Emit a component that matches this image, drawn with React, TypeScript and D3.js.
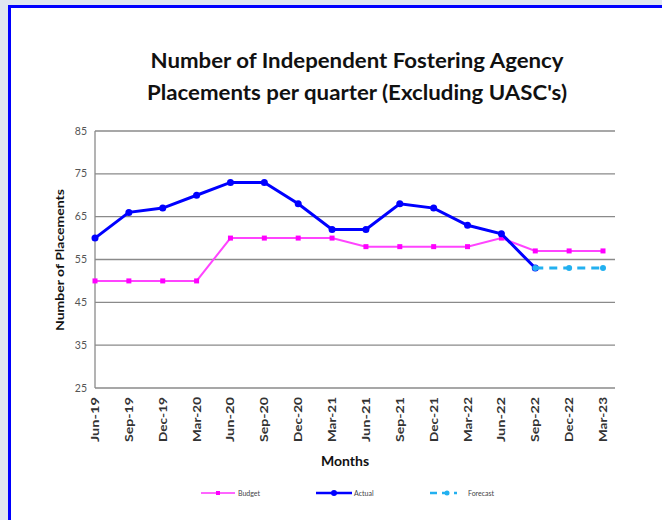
import React from "react";
import * as d3 from "d3";

const months = ["Jun-19","Sep-19","Dec-19","Mar-20","Jun-20","Sep-20","Dec-20","Mar-21","Jun-21","Sep-21","Dec-21","Mar-22","Jun-22","Sep-22","Dec-22","Mar-23"];
const budget = [50,50,50,50,60,60,60,60,58,58,58,58,60,57,57,57];
const actual = [60,66,67,70,73,73,68,62,62,68,67,63,61,53];
const forecastMonths = ["Sep-22","Dec-22","Mar-23"];
const forecast = [53,53,53];
const yTicks = [25,35,45,55,65,75,85];

const W = 662, H = 520;
const left = 95, top = 131, bottom = 388, right = 615;
const firstX = 95, lastX = 603;

export default function App() {
  const x = d3.scalePoint<string>().domain(months).range([firstX, lastX]);
  const y = d3.scaleLinear().domain([25, 85]).range([bottom, top]);
  const line = d3.line<[string, number]>().x(d => x(d[0])!).y(d => y(d[1]));
  const bData: [string, number][] = months.map((m, i) => [m, budget[i]]);
  const aData: [string, number][] = actual.map((v, i) => [months[i], v]);
  const fData: [string, number][] = forecast.map((v, i) => [forecastMonths[i], v]);
  const font = "Lato, Open Sans, Liberation Sans, sans-serif";
  return (
    <svg width={W} height={H} style={{ position: "fixed", left: 0, top: 0 }} fontFamily={font}>
      <rect x={0} y={0} width={W} height={H} fill="#dfe6f0" />
      <rect x={9.5} y={6.5} width={W} height={H} fill="#ffffff" stroke="#0000ff" strokeWidth={3} />
      <text x={357} y={68} textAnchor="middle" fontSize={21.5} fontWeight="bold" fill="#111" textLength={413} lengthAdjust="spacingAndGlyphs">Number of Independent Fostering Agency</text>
      <text x={357} y={100} textAnchor="middle" fontSize={21.5} fontWeight="bold" fill="#111" textLength={420} lengthAdjust="spacingAndGlyphs">Placements per quarter (Excluding UASC's)</text>
      {yTicks.map(t => (
        <g key={t}>
          <line x1={left} x2={right} y1={y(t)} y2={y(t)} stroke="#8a8a8a" strokeWidth={1.3} />
          <text x={87} y={y(t) + 3.5} textAnchor="end" fontSize={10.5} fill="#555">{t}</text>
        </g>
      ))}
      <line x1={left} x2={left} y1={top} y2={bottom} stroke="#8a8a8a" strokeWidth={1.3} />
      {months.map(m => (
        <text key={m} transform={`translate(${x(m)! + 4},${397}) rotate(-90)`} textAnchor="end" fontSize={11.5} fontWeight="bold" fill="#333" textLength={45} lengthAdjust="spacingAndGlyphs">{m}</text>
      ))}
      <text x={345} y={466} textAnchor="middle" fontSize={14} fontWeight="bold" fill="#111">Months</text>
      <text transform={`translate(64,${260}) rotate(-90)`} textAnchor="middle" fontSize={11} fontWeight="bold" fill="#111" textLength={142} lengthAdjust="spacingAndGlyphs">Number of Placements</text>
      <path d={line(bData)!} fill="none" stroke="#ff44ff" strokeWidth={2} />
      {bData.map(d => (
        <rect key={"b" + d[0]} x={x(d[0])! - 2.5} y={y(d[1]) - 2.5} width={5} height={5} fill="#ff00ff" />
      ))}
      <path d={line(aData)!} fill="none" stroke="#0000ff" strokeWidth={3} />
      {aData.map(d => (
        <circle key={"a" + d[0]} cx={x(d[0])!} cy={y(d[1])} r={3.5} fill="#0000ff" />
      ))}
      <path d={line(fData)!} fill="none" stroke="#22b0f0" strokeWidth={3} strokeDasharray="8,6" />
      {fData.map(d => (
        <circle key={"f" + d[0]} cx={x(d[0])!} cy={y(d[1])} r={3} fill="#22b0f0" />
      ))}
      <g fontSize={7} fill="#444">
        <line x1={201} x2={235} y1={493} y2={493} stroke="#ff66ff" strokeWidth={2} />
        <rect x={216} y={491} width={4} height={4} fill="#ff00ff" />
        <text x={238} y={496}>Budget</text>
        <line x1={316} x2={352} y1={493} y2={493} stroke="#0000ff" strokeWidth={2.5} />
        <circle cx={334} cy={493} r={3} fill="#0000ff" />
        <text x={354} y={496}>Actual</text>
        <line x1={430} x2={457} y1={493} y2={493} stroke="#22b0f0" strokeWidth={2.5} strokeDasharray="7,5" />
        <circle cx={447} cy={493} r={2.5} fill="#22b0f0" />
        <text x={468} y={496}>Forecast</text>
      </g>
    </svg>
  );
}
